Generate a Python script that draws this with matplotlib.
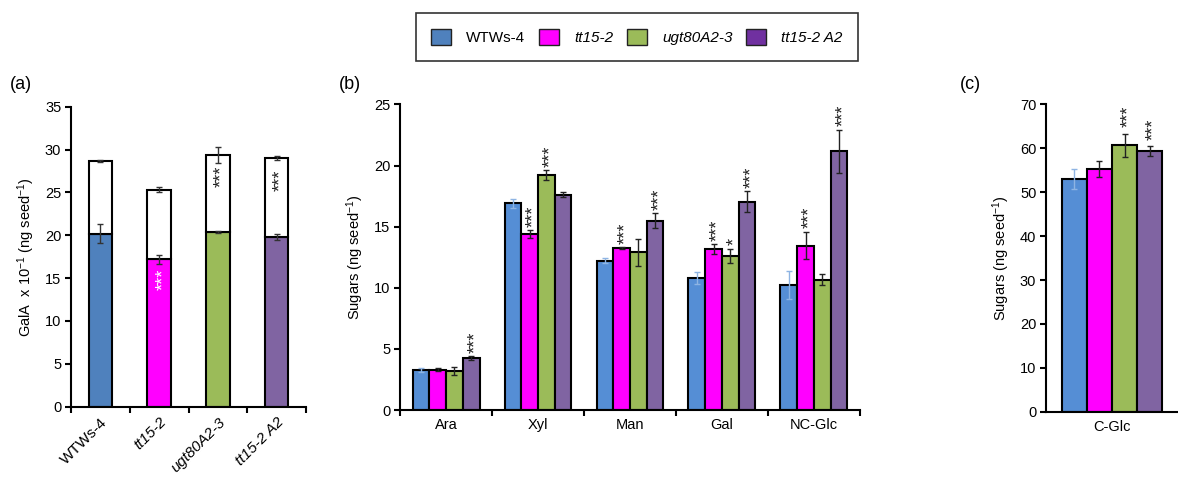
import matplotlib
matplotlib.use("Agg")
import matplotlib.pyplot as plt
from matplotlib.patches import Patch
from matplotlib.transforms import offset_copy
import numpy as np

plt.rcParams['font.family'] = ['Liberation Sans', 'DejaVu Sans']
plt.rcParams['mathtext.fontset'] = 'custom'
plt.rcParams['mathtext.rm'] = 'Liberation Sans'
plt.rcParams['mathtext.it'] = 'Liberation Sans:italic'

# ---------------- data ----------------
genotypes = ["WTWs-4", "tt15-2", "ugt80A2-3", "tt15-2 A2"]
genotype_italic = [False, True, True, True]

# (a) GalA x 10^-1 : bottom (coloured) segment and total (white top)
gala_bottom = [20.2, 17.2, 20.4, 19.8]
gala_bottom_err = [1.1, 0.5, 0.1, 0.35]
gala_total = [28.7, 25.3, 29.4, 29.0]
gala_total_err = [0.15, 0.3, 0.9, 0.25]
gala_stars_total = ["", "", "***", "***"]
gala_stars_bottom = ["", "***", "", ""]

# (b) sugars
sugars = ["Ara", "Xyl", "Man", "Gal", "NC-Glc"]
sug_wt = [3.3, 16.9, 12.2, 10.8, 10.2]
sug_tt = [3.3, 14.4, 13.25, 13.15, 13.45]
sug_ugt = [3.2, 19.2, 12.9, 12.6, 10.65]
sug_a2 = [4.25, 17.6, 15.5, 17.05, 21.15]
err_wt = [0.15, 0.35, 0.2, 0.5, 1.15]
err_tt = [0.1, 0.3, 0.05, 0.4, 1.1]
err_ugt = [0.3, 0.4, 1.1, 0.6, 0.45]
err_a2 = [0.15, 0.2, 0.6, 0.85, 1.75]
stars_tt = ["", "***", "***", "***", "***"]
stars_ugt = ["", "***", "", "*", ""]
stars_a2 = ["***", "", "***", "***", "***"]

# (c) C-Glc
cglc_label = ["C-Glc"]
cglc = [53.0, 55.3, 60.7, 59.4]
cglc_err = [2.2, 1.9, 2.6, 1.1]
cglc_stars = ["", "", "***", "***"]

# ---------------- styles ----------------
col_a = ["#4F81BD", "#FF00FF", "#9BBB59", "#8064A2"]
col_b = ["#558ED5", "#FF00FF", "#9BBB59", "#8064A2"]
col_leg = ["#4F81BD", "#FF00FF", "#9BBB59", "#7030A0"]
err_cols = ["#8EB4E3", "#222222", "#222222", "#222222"]
FS = 10.5
SFS = 13

fig = plt.figure(figsize=(11.78, 4.79), dpi=100)

def star_tr(ax):
    return offset_copy(ax.transData, fig=fig, x=3.0, y=0, units='points')

def style_axes(ax):
    ax.spines['top'].set_visible(False)
    ax.spines['right'].set_visible(False)
    for s in ['left', 'bottom']:
        ax.spines[s].set_linewidth(1.5)
    ax.tick_params(axis='y', direction='out', length=4, width=1.5, labelsize=FS, pad=3)
    ax.tick_params(axis='x', which='major', direction='out', length=4, width=1.5, labelbottom=False)
    ax.tick_params(axis='x', which='minor', length=0, labelsize=FS, pad=6)

# ---------------- (a) ----------------
axa = fig.add_axes([0.0603, 0.151, 0.1995, 0.626])
xa = np.arange(len(genotypes))
top_part = [t - b for t, b in zip(gala_total, gala_bottom)]
axa.bar(xa, gala_bottom, width=0.4, color=col_a, edgecolor='black', linewidth=1.5, zorder=2)
axa.bar(xa, top_part, bottom=gala_bottom, width=0.4, color='white', edgecolor='black',
        linewidth=1.5, zorder=2)
axa.errorbar(xa, gala_bottom, yerr=gala_bottom_err, fmt='none', ecolor='#333333',
             elinewidth=1, capsize=2.5, capthick=1, zorder=3)
axa.errorbar(xa, gala_total, yerr=gala_total_err, fmt='none', ecolor='#333333',
             elinewidth=1, capsize=2.5, capthick=1, zorder=3)
for i, s in enumerate(gala_stars_total):
    if s:
        axa.text(xa[i], gala_total[i] - 1.3, s, rotation=90, ha='center', va='top',
                 fontsize=SFS, color='#222222', zorder=4, transform=star_tr(axa))
for i, s in enumerate(gala_stars_bottom):
    if s:
        axa.text(xa[i], gala_bottom[i] - 1.1, s, rotation=90, ha='center', va='top',
                 fontsize=SFS, color='white', zorder=4, transform=star_tr(axa))
axa.set_xlim(-0.5, len(genotypes) - 0.5)
axa.set_ylim(0, 35)
axa.set_yticks(np.arange(0, 36, 5))
axa.set_xticks(np.arange(-0.5, len(genotypes), 1.0))
axa.set_xticks(xa, minor=True)
axa.set_xticklabels(genotypes, minor=True, rotation=45, ha='right', rotation_mode='anchor')
style_axes(axa)
for lbl, it in zip(axa.get_xticklabels(minor=True), genotype_italic):
    lbl.set_fontstyle('italic' if it else 'normal')
    lbl.set_fontsize(FS + 0.5)
axa.set_ylabel(r"GalA  x 10$^{-1}$ (ng seed$^{-1}$)", fontsize=FS, labelpad=6)
fig.text(0.008, 0.815, "(a)", fontsize=13)

# ---------------- (b) ----------------
axb = fig.add_axes([0.3396, 0.144, 0.3904, 0.638])
xb = np.arange(len(sugars))
w = 0.182
series = [(sug_wt, err_wt, None), (sug_tt, err_tt, stars_tt),
          (sug_ugt, err_ugt, stars_ugt), (sug_a2, err_a2, stars_a2)]
for k, (vals, errs, stars) in enumerate(series):
    pos = xb + (k - 1.5) * w
    axb.bar(pos, vals, width=w, color=col_b[k], edgecolor='black', linewidth=1.5, zorder=2)
    axb.errorbar(pos, vals, yerr=errs, fmt='none', ecolor=err_cols[k], elinewidth=1,
                 capsize=2.5, capthick=1, zorder=3)
    if stars:
        for i, s in enumerate(stars):
            if s:
                axb.text(pos[i], vals[i] + errs[i] + 0.3, s, rotation=90, ha='center',
                         va='bottom', fontsize=SFS, color='#222222', transform=star_tr(axb))
axb.set_xlim(-0.5, len(sugars) - 0.5)
axb.set_ylim(0, 25)
axb.set_yticks(np.arange(0, 26, 5))
axb.set_xticks(np.arange(-0.5, len(sugars), 1.0))
axb.set_xticks(xb, minor=True)
axb.set_xticklabels(sugars, minor=True)
style_axes(axb)
axb.set_ylabel(r"Sugars (ng seed$^{-1}$)", fontsize=FS, labelpad=6)
fig.text(0.288, 0.815, "(b)", fontsize=13)

# ---------------- (c) ----------------
axc = fig.add_axes([0.888, 0.1405, 0.112, 0.6415])
for k in range(4):
    pos = (k - 1.5) * 0.19
    axc.bar(pos, cglc[k], width=0.19, color=col_b[k], edgecolor='black', linewidth=1.5, zorder=2)
    axc.errorbar(pos, cglc[k], yerr=cglc_err[k], fmt='none', ecolor=err_cols[k], elinewidth=1,
                 capsize=2.5, capthick=1, zorder=3)
    if cglc_stars[k]:
        axc.text(pos, cglc[k] + cglc_err[k] + 1.5, cglc_stars[k], rotation=90, ha='center',
                 va='bottom', fontsize=SFS, color='#222222', transform=star_tr(axc))
axc.set_xlim(-0.5, 0.5)
axc.set_ylim(0, 70)
axc.set_yticks(np.arange(0, 71, 10))
axc.set_xticks([])
axc.set_xticks([0.0], minor=True)
axc.set_xticklabels(cglc_label, minor=True)
style_axes(axc)
axc.set_ylabel(r"Sugars (ng seed$^{-1}$)", fontsize=FS, labelpad=6)
fig.text(0.815, 0.815, "(c)", fontsize=13)

# ---------------- legend ----------------
handles = [Patch(facecolor=c, edgecolor='#222222', linewidth=1) for c in col_leg]
leg = fig.legend(handles, genotypes, loc='center', bbox_to_anchor=(0.5406, 0.9228), ncol=4,
                 frameon=True, fancybox=False, edgecolor='black', fontsize=11,
                 handlelength=1.3, handleheight=1.3, handletextpad=1.0, columnspacing=0.9,
                 borderpad=1.0, borderaxespad=0)
leg.get_frame().set_linewidth(1.2)
for t, it in zip(leg.get_texts(), genotype_italic):
    t.set_fontstyle('italic' if it else 'normal')

fig.savefig("out.png", dpi=100)
